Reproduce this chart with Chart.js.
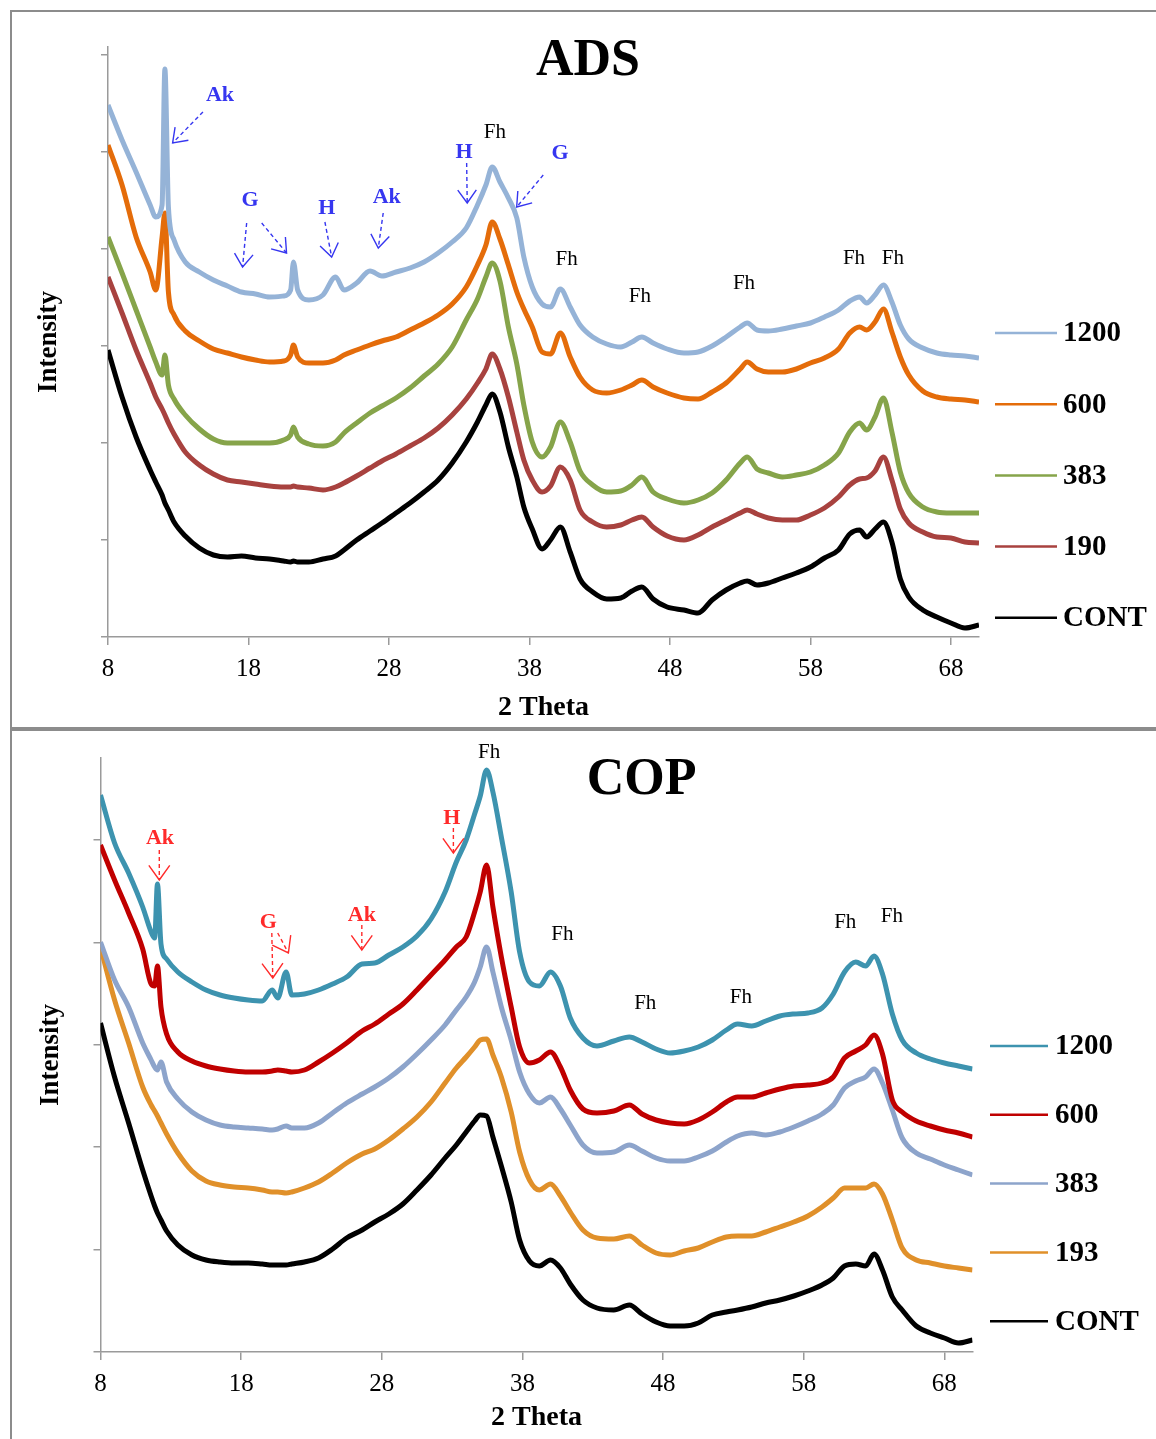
<!DOCTYPE html>
<html>
<head>
<meta charset="utf-8">
<script src="https://cdn.jsdelivr.net/npm/chart.js@4.4.1/dist/chart.umd.min.js"></script>
<style>
  body { margin: 0; background: #fff; width: 1156px; height: 1439px; position: relative; overflow: hidden; }
  .frame { position: absolute; box-sizing: border-box; border: 2px solid #8c8c8c; }
  canvas { position: absolute; left: 0; }
</style>
</head>
<body>
<div class="frame" style="left:10px;top:10px;width:1160px;height:719px"></div>
<div class="frame" style="left:10px;top:729px;width:1160px;height:720px"></div>
<canvas id="ads" width="1156" height="728" style="top:0"></canvas>
<canvas id="cop" width="1156" height="711" style="top:728px"></canvas>
<script>
// XRD patterns, intensity in arbitrary units (curves are stacked)
const xTicks = [8, 18, 28, 38, 48, 58, 68];

const thetaADS = [8, 9, 10, 11, 11.4, 11.85, 12.05, 12.3, 12.7, 13.5,
  14.5, 15.5, 16.5, 17.5, 18.5, 19.5, 20.5, 21, 21.2, 21.5,
  22.3, 23.3, 24.2, 24.8, 25.7, 26.65, 27.5, 28.5, 29.5, 30.5,
  31.5, 32.5, 33.5, 34.3, 34.9, 35.35, 35.9, 36.5, 37.1, 37.6,
  38.2, 38.9, 39.5, 40.2, 40.9, 41.6, 42.5, 43.5, 44.5, 45.3,
  46, 46.8, 47.8, 49, 50, 51, 52, 53, 53.5, 54.2,
  55, 56, 57, 58, 59, 60, 60.8, 61.5, 62, 62.6,
  63.2, 63.8, 64.4, 65, 66, 67, 68, 69, 70];
const adsLabels = ['1200', '600', '383', '190', 'CONT'];
const ads1200 = [532, 497, 465, 432, 420, 432, 568, 430, 397, 375,
  365, 357, 351, 345, 343, 340, 341, 347, 375, 347,
  337, 342, 360, 347, 354, 366, 361, 365, 369, 375,
  384, 395, 409, 432, 452, 470, 455, 439, 419, 380,
  350, 333, 330, 348, 330, 312, 300, 293, 290, 295,
  300, 294, 288, 284, 285, 291, 300, 310, 314, 307,
  306, 308, 311, 314, 320, 327, 336, 340, 334, 342,
  352, 335, 312, 298, 289, 284, 282, 281, 279];
const ads600 = [492, 452, 400, 365, 347, 400, 424, 345, 322, 306,
  296, 288, 284, 280, 277, 275, 276, 282, 292, 280,
  274, 274, 277, 282, 287, 292, 296, 300, 307, 314,
  322, 333, 350, 372, 392, 415, 398, 372, 345, 328,
  310, 285, 283, 304, 280, 260, 247, 244, 247, 252,
  257, 250, 244, 239, 238, 245, 254, 268, 275, 268,
  265, 265, 268, 274, 279, 288, 304, 310, 307, 315,
  328, 305, 280, 262, 246, 240, 238, 237, 235];
const ads383 = [400, 364, 327, 290, 275, 262, 282, 252, 238, 222,
  208, 198, 194, 194, 194, 194, 197, 202, 210, 200,
  193, 191, 195, 204, 214, 224, 231, 239, 249, 261,
  273, 290, 317, 338, 360, 374, 356, 310, 273, 232,
  195, 180, 190, 215, 195, 166, 152, 145, 146, 152,
  160, 145, 138, 134, 137, 144, 157, 174, 180, 168,
  164, 160, 162, 165, 172, 184, 205, 214, 207, 220,
  239, 205, 165, 144, 130, 125, 124, 124, 124];
const ads190 = [360, 324, 287, 254, 240, 228, 222, 214, 203, 185,
  172, 163, 157, 155, 153, 151, 150, 150, 151, 150,
  149, 147, 150, 154, 161, 169, 176, 183, 191, 199,
  209, 222, 238, 254, 268, 283, 268, 240, 205, 177,
  157, 145, 151, 170, 157, 127, 115, 110, 112, 117,
  120, 110, 101, 97, 102, 110, 117, 124, 127, 123,
  119, 117, 117, 122, 129, 140, 152, 158, 159, 166,
  180, 157, 128, 114, 105, 100, 99, 95, 94];
const adsCont = [287, 240, 200, 167, 155, 142, 134, 127, 115, 101,
  89, 82, 80, 81, 79, 78, 76, 75, 76, 75,
  75, 78, 81, 87, 97, 106, 114, 124, 134, 145,
  157, 174, 195, 215, 232, 243, 225, 190, 160, 130,
  108, 88, 97, 110, 85, 58, 45, 38, 39, 46,
  50, 38, 30, 27, 24, 37, 47, 54, 56, 52,
  54, 59, 64, 70, 79, 87, 103, 107, 100, 108,
  115, 95, 58, 40, 27, 20, 14, 9, 12];

const thetaCOP = [8, 9, 10, 11, 11.6, 11.85, 12.05, 12.3, 12.7, 13.5,
  14.5, 15.5, 16.5, 17.5, 18.5, 19.5, 20.2, 20.6, 21.2, 21.6,
  22.5, 23.5, 24.5, 25.5, 26.6, 27.5, 28.5, 29.5, 30.5, 31.5,
  32.5, 33.3, 34, 34.6, 35, 35.45, 35.9, 36.5, 37.2, 37.8,
  38.5, 39.2, 40, 40.7, 41.4, 42.3, 43.3, 44.5, 45.6, 46.5,
  47.5, 48.5, 49.5, 50.5, 51.5, 52.5, 53.3, 54.3, 55.3, 56.3,
  57.3, 58.3, 59.3, 60.1, 60.9, 61.7, 62.4, 63, 63.6, 64.3,
  65, 66, 67, 68, 69, 70];
const copLabels = ['1200', '600', '383', '193', 'CONT'];
const cop1200 = [557, 509, 479, 445, 420, 414, 468, 408, 393, 380,
  370, 362, 357, 354, 352, 351, 362, 354, 380, 357,
  358, 362, 368, 375, 388, 389, 397, 405, 416, 433,
  460, 490, 512, 538, 556, 582, 560, 515, 460, 400,
  370, 366, 380, 366, 334, 314, 306, 311, 315, 310,
  303, 299, 301, 305, 312, 322, 328, 326, 331, 336,
  338, 339, 344, 358, 380, 390, 386, 396, 378, 338,
  312, 299, 293, 289, 286, 283];
const cop600 = [507, 472, 439, 403, 368, 366, 386, 345, 318, 300,
  291, 286, 283, 281, 280, 280, 281, 282, 281, 280,
  282, 290, 299, 309, 321, 328, 338, 348, 362, 377,
  392, 405, 415, 440, 460, 487, 445, 395, 345, 305,
  289, 292, 300, 285, 262, 243, 239, 241, 247, 238,
  232, 229, 228, 232, 240, 250, 255, 255, 259, 263,
  266, 267, 269, 275, 294, 301, 307, 317, 298, 252,
  240, 231, 226, 222, 219, 215];
const cop383 = [410, 372, 345, 309, 292, 285, 282, 290, 270, 253,
  240, 232, 227, 225, 224, 223, 222, 223, 226, 224,
  224, 229, 239, 249, 258, 265, 274, 285, 298, 312,
  327, 342, 355, 370, 385, 405, 380, 345, 312, 280,
  258, 249, 255, 243, 227, 207, 199, 200, 207, 201,
  194, 191, 191, 195, 201, 210, 216, 219, 217, 220,
  225, 231, 238, 247, 264, 271, 275, 283, 269, 242,
  214, 199, 193, 187, 182, 177];
const cop193 = [405, 352, 309, 265, 247, 241, 236, 229, 218, 199,
  181, 171, 167, 165, 164, 162, 160, 160, 159, 160,
  164, 170, 179, 189, 198, 203, 212, 223, 235, 250,
  269, 284, 295, 305, 312, 313, 297, 275, 240, 200,
  172, 162, 168, 156, 140, 122, 114, 113, 116, 107,
  99, 97, 101, 104, 110, 115, 116, 116, 120, 125,
  130, 136, 145, 154, 164, 164, 164, 168, 158, 132,
  104, 92, 89, 86, 84, 82];
const copCont = [329, 275, 229, 182, 156, 146, 139, 132, 121, 107,
  97, 92, 90, 89, 89, 88, 87, 87, 87, 88,
  90, 94, 103, 114, 122, 130, 138, 148, 162, 177,
  194, 207, 220, 231, 237, 236, 215, 186, 150, 112,
  91, 86, 92, 84, 68, 52, 44, 42, 47, 38,
  30, 26, 26, 29, 37, 40, 42, 45, 49, 52,
  56, 61, 67, 74, 86, 88, 86, 98, 82, 55,
  42, 26, 19, 14, 9, 12];

// phase labels: [text, 2theta, intensity]
const adsPhaseNotes = [['Ak', 15.97, 542], ['G', 18.11, 437], ['H', 23.57, 429],
  ['Ak', 27.84, 440], ['H', 33.34, 485], ['G', 40.17, 484]];
const adsFhNotes = [[35.54, 505], [40.65, 378], [45.86, 341], [53.27, 354], [61.1, 379], [63.87, 379]];
// dashed pointers: [from 2theta, from intensity, to 2theta, to intensity]
const adsArrows = [[14.76, 525, 12.6, 494], [17.87, 414, 17.58, 370], [18.94, 414, 20.71, 384],
  [23.44, 415, 23.92, 380], [27.59, 424, 27.24, 389], [33.53, 474, 33.57, 434], [38.98, 462, 37.09, 430]];

const copPhaseNotes = [['Ak', 12.23, 514], ['G', 19.93, 430], ['Ak', 26.58, 437], ['H', 32.98, 534]];
const copFhNotes = [[35.63, 600], [40.84, 418], [46.73, 349], [53.53, 355], [60.95, 430], [64.27, 436]];
const copArrows = [[12.18, 502, 12.18, 472], [20.18, 419, 20.25, 374], [20.6, 419, 21.36, 399],
  [26.58, 427, 26.58, 402], [33.09, 524, 33.09, 499]];

const SERIF = '"Liberation Serif", "Times New Roman", serif';
const AXIS_GREY = '#9a9a9a';

function drawPointer(ctx, x0, y0, x1, y1, color, wing) {
  ctx.strokeStyle = color;
  ctx.lineWidth = 1.4;
  ctx.setLineDash([4, 3]);
  ctx.beginPath();
  ctx.moveTo(x0, y0);
  ctx.lineTo(x1, y1);
  ctx.stroke();
  ctx.setLineDash([]);
  const a = Math.atan2(y1 - y0, x1 - x0);
  ctx.beginPath();
  ctx.moveTo(x1 - wing * Math.cos(a - 0.62), y1 - wing * Math.sin(a - 0.62));
  ctx.lineTo(x1, y1);
  ctx.lineTo(x1 - wing * Math.cos(a + 0.62), y1 - wing * Math.sin(a + 0.62));
  ctx.stroke();
}

function decor(p) {
  return {
    id: 'xrdDecor',
    afterDatasetsDraw(chart) {
      const { ctx, chartArea, scales: { x, y } } = chart;
      const px = t => x.getPixelForValue(t);
      const py = v => y.getPixelForValue(v);
      ctx.save();
      ctx.textAlign = 'center';
      ctx.textBaseline = 'middle';

      ctx.fillStyle = '#000';
      ctx.font = 'bold 52px ' + SERIF;
      ctx.fillText(p.title, px(p.titleAt[0]), py(p.titleAt[1]));

      ctx.font = 'bold 22px ' + SERIF;
      ctx.fillStyle = p.phaseColor;
      p.phaseNotes.forEach(([txt, t, v]) => ctx.fillText(txt, px(t), py(v)));

      ctx.font = '21px ' + SERIF;
      ctx.fillStyle = '#000';
      p.fhNotes.forEach(([t, v]) => ctx.fillText('Fh', px(t), py(v)));

      p.arrows.forEach(([t0, v0, t1, v1]) =>
        drawPointer(ctx, px(t0), py(v0), px(t1), py(v1), p.phaseColor, p.wing));

      // legend, one row per sample
      ctx.textAlign = 'left';
      ctx.font = 'bold 29px ' + SERIF;
      chart.data.datasets.forEach((ds, i) => {
        const ly = chartArea.top + p.legendTop + i * p.legendGap;
        ctx.strokeStyle = ds.borderColor;
        ctx.lineWidth = 2.5;
        ctx.beginPath();
        ctx.moveTo(chartArea.right + p.legendX[0], ly);
        ctx.lineTo(chartArea.right + p.legendX[1], ly);
        ctx.stroke();
        ctx.fillStyle = '#000';
        ctx.fillText(ds.label, chartArea.right + p.legendX[2], ly + 1);
      });
      ctx.restore();
    }
  };
}

function makePanel(p) {
  const datasets = p.series.map((vals, i) => ({
    label: p.labels[i],
    data: p.theta.map((t, j) => ({ x: t, y: vals[j] })),
    borderColor: p.colors[i],
    borderWidth: 5,
    pointRadius: 0,
    cubicInterpolationMode: 'monotone',
    fill: false
  }));

  return new Chart(document.getElementById(p.canvas), {
    type: 'line',
    data: { datasets },
    options: {
      responsive: false,
      animation: false,
      layout: { padding: p.padding },
      plugins: { legend: { display: false }, tooltip: { enabled: false } },
      scales: {
        x: {
          type: 'linear', min: 8, max: 70,
          afterBuildTicks: a => { a.ticks = xTicks.map(v => ({ value: v })); },
          ticks: { color: '#000', font: { family: SERIF, size: 25 }, padding: 9, maxRotation: 0, autoSkip: false },
          grid: { drawOnChartArea: false, drawTicks: true, tickLength: 8, color: AXIS_GREY, lineWidth: 1.5 },
          border: { color: AXIS_GREY, width: 1.5 },
          title: { display: true, text: '2 Theta', color: '#000',
                   font: { family: SERIF, size: 28, weight: 'bold' }, padding: { top: 0, bottom: p.xTitlePad } },
          afterFit: s => { s.height = p.xAxisHeight; }
        },
        y: {
          min: 0, max: p.yMax,
          afterBuildTicks: a => {
            const t = [];
            for (let v = 0; v <= p.yMax; v += p.yStep) t.push({ value: v });
            a.ticks = t;
          },
          ticks: { display: false },
          grid: { drawOnChartArea: false, drawTicks: true, tickLength: 7, color: AXIS_GREY, lineWidth: 1.5 },
          border: { color: AXIS_GREY, width: 1.5 },
          title: { display: true, text: 'Intensity', color: '#000',
                   font: { family: SERIF, size: 27, weight: 'bold' }, padding: { top: p.yTitlePad, bottom: 0 } },
          afterFit: s => { s.width = 75; }
        }
      }
    },
    plugins: [decor(p)]
  });
}

makePanel({
  canvas: 'ads', title: 'ADS', titleAt: [42.16, 575],
  theta: thetaADS, labels: adsLabels,
  series: [ads1200, ads600, ads383, ads190, adsCont],
  colors: ['#95b3d7', '#e46c0a', '#86a44a', '#a8423f', '#000000'],
  yMax: 590, yStep: 97,
  padding: { left: 33, top: 47, right: 177, bottom: 0 },
  xAxisHeight: 91, xTitlePad: 3, yTitlePad: 0,
  legendTop: 286, legendGap: 71.2, legendX: [16, 78, 84],
  phaseColor: '#3636f0', phaseNotes: adsPhaseNotes, fhNotes: adsFhNotes, arrows: adsArrows, wing: 16
});

makePanel({
  canvas: 'cop', title: 'COP', titleAt: [46.47, 571],
  theta: thetaCOP, labels: copLabels,
  series: [cop1200, cop600, cop383, cop193, copCont],
  colors: ['#3d93af', '#c00000', '#8da4cb', '#e0902a', '#000000'],
  yMax: 594, yStep: 102.4,
  padding: { left: 25.5, top: 30, right: 183.5, bottom: 0 },
  xAxisHeight: 87, xTitlePad: 4, yTitlePad: 9,
  legendTop: 288, legendGap: 68.8, legendX: [17.5, 75.5, 82.5],
  phaseColor: '#ff2a2a', phaseNotes: copPhaseNotes, fhNotes: copFhNotes, arrows: copArrows, wing: 18
});
</script>
</body>
</html>
